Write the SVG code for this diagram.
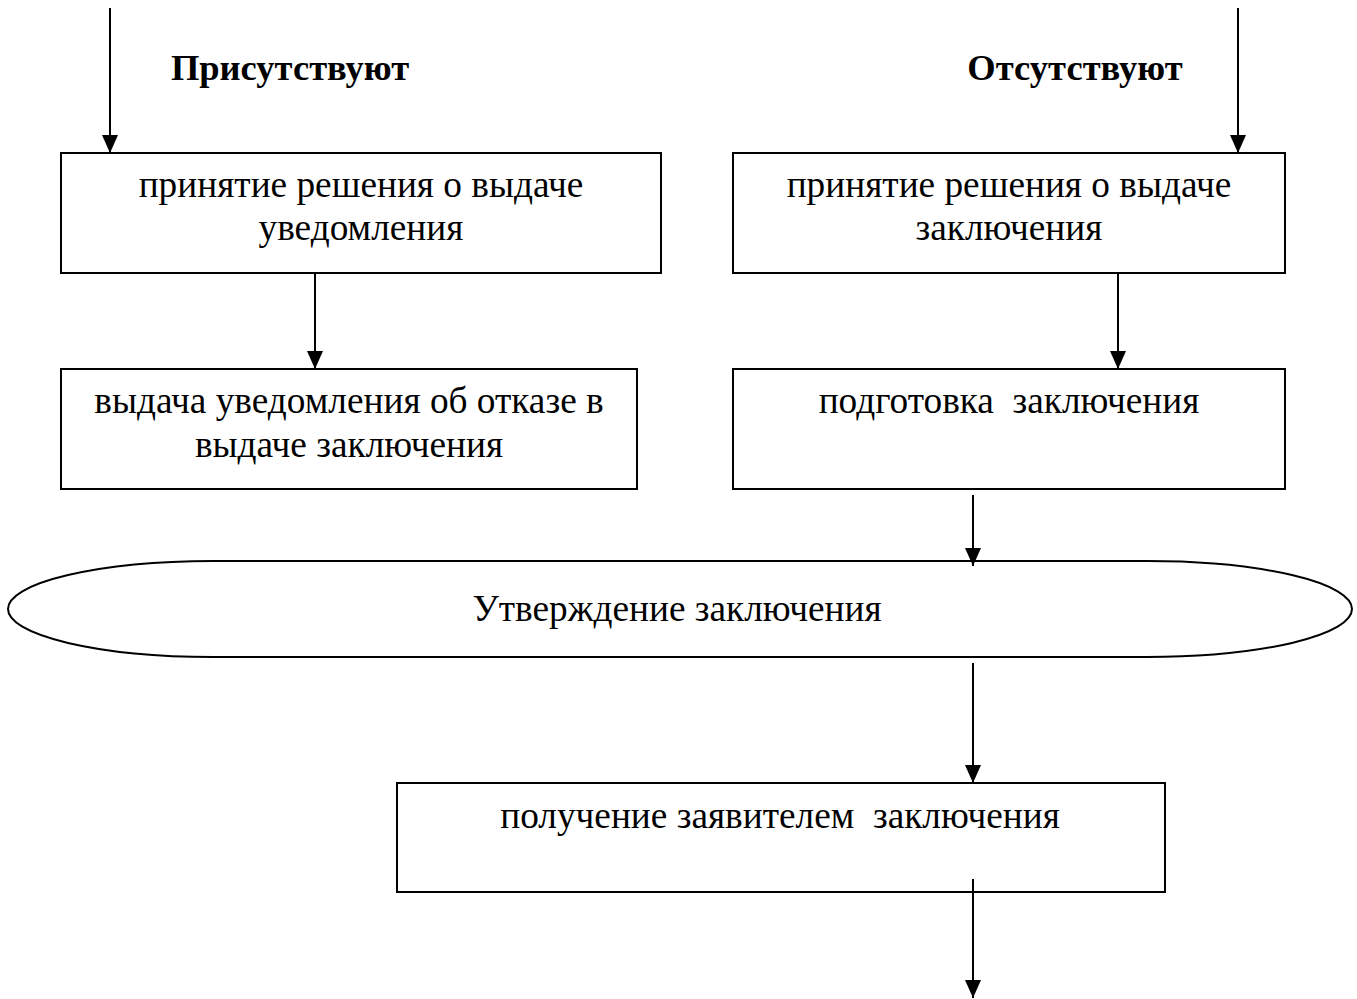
<svg xmlns="http://www.w3.org/2000/svg" width="1357" height="999" viewBox="0 0 1357 999">
<style>
.box{fill:#fff;stroke:#000;stroke-width:2}
.t{font-family:"Liberation Serif","Times New Roman",serif;font-size:37.3px;fill:#000;text-anchor:middle}
.b{font-weight:bold;font-size:36.5px}
.c{stroke:#000;stroke-width:2;fill:none;marker-end:url(#ah)}
</style>
<defs>
<marker id="ah" markerUnits="userSpaceOnUse" markerWidth="18" markerHeight="16" refX="18" refY="8" orient="auto" viewBox="0 0 18 16">
<path d="M0,0 L18,8 L0,16 Z" fill="#000"/>
</marker>
</defs>
<rect width="1357" height="999" fill="#fff"/>
<g id="labels">
<text class="t b" x="290" y="80">Присутствуют</text>
<text class="t b" x="1075" y="80">Отсутствуют</text>
</g>
<g id="n1">
<rect class="box" x="61" y="153" width="600" height="120"/>
<text class="t" x="361" y="197">принятие решения о выдаче</text>
<text class="t" x="361" y="240">уведомления</text>
</g>
<g id="n2">
<rect class="box" x="733" y="153" width="552" height="120"/>
<text class="t" x="1009" y="197">принятие решения о выдаче</text>
<text class="t" x="1009" y="240">заключения</text>
</g>
<g id="n3">
<rect class="box" x="61" y="369" width="576" height="120"/>
<text class="t" x="349" y="413">выдача уведомления об отказе в</text>
<text class="t" x="349" y="457">выдаче заключения</text>
</g>
<g id="n4">
<rect class="box" x="733" y="369" width="552" height="120"/>
<text class="t" x="1009" y="413" xml:space="preserve">подготовка  заключения</text>
</g>
<g id="n5">
<rect class="box" x="8" y="561" width="1344" height="96" rx="205" ry="48"/>
<text class="t" x="677" y="621">Утверждение заключения</text>
</g>
<g id="n6">
<rect class="box" x="397" y="783" width="768" height="109"/>
<text class="t" x="780" y="828" xml:space="preserve">получение заявителем  заключения</text>
</g>
<g id="connectors">
<line class="c" x1="110" y1="8" x2="110" y2="153"/>
<line class="c" x1="1238" y1="8" x2="1238" y2="153"/>
<line class="c" x1="315" y1="273" x2="315" y2="369"/>
<line class="c" x1="1118" y1="273" x2="1118" y2="369"/>
<line class="c" x1="973" y1="495" x2="973" y2="566"/>
<line class="c" x1="973" y1="663" x2="973" y2="783"/>
<line class="c" x1="973" y1="879" x2="973" y2="998"/>
</g>
</svg>
